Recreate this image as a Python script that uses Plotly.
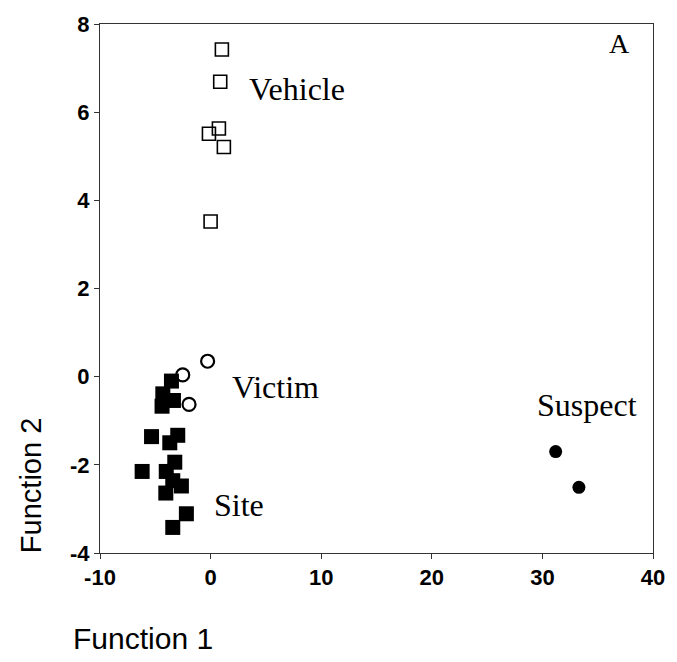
import plotly.graph_objects as go

# Data
vehicle_x = [1.02, 0.87, 0.75, -0.15, 1.20, 0.00]
vehicle_y = [7.42, 6.69, 5.63, 5.51, 5.21, 3.52]

victim_x = [-0.27, -2.52, -1.95]
victim_y = [0.35, 0.04, -0.63]

site_x = [-3.54, -4.32, -3.36, -4.39, -5.34, -2.97, -3.69, -3.24, -6.19, -4.01, -3.42, -2.64, -4.05, -2.19, -3.42]
site_y = [-0.10, -0.39, -0.54, -0.67, -1.36, -1.33, -1.50, -1.94, -2.15, -2.15, -2.36, -2.48, -2.64, -3.11, -3.42]

suspect_x = [31.2, 33.3]
suspect_y = [-1.70, -2.51]

group_labels = ["Vehicle", "Victim", "Site", "Suspect"]
label_x = [7.8, 5.9, 2.6, 34.0]
label_y = [6.53, -0.24, -2.92, -0.65]

x_ticks = [-10, 0, 10, 20, 30, 40]
x_tick_text = ["-10", "0", "10", "20", "30", "40"]
y_ticks = [-4, -2, 0, 2, 4, 6, 8]
y_tick_text = ["-4", "-2", "0", "2", "4", "6", "8"]

fig = go.Figure()
fig.add_trace(go.Scatter(x=vehicle_x, y=vehicle_y, mode="markers",
                         marker=dict(symbol="square-open", size=13, color="black",
                                     line=dict(width=1.6, color="black"))))
fig.add_trace(go.Scatter(x=victim_x, y=victim_y, mode="markers",
                         marker=dict(symbol="circle-open", size=13, color="black",
                                     line=dict(width=2.2, color="black"))))
fig.add_trace(go.Scatter(x=site_x, y=site_y, mode="markers",
                         marker=dict(symbol="square", size=15, color="black")))
fig.add_trace(go.Scatter(x=suspect_x, y=suspect_y, mode="markers",
                         marker=dict(symbol="circle", size=13, color="black")))

serif = "Liberation Serif, Times New Roman, serif"
for t, xx, yy in zip(group_labels, label_x, label_y):
    fig.add_annotation(x=xx, y=yy, text=t, showarrow=False,
                       font=dict(family=serif, size=32, color="black"))
fig.add_annotation(x=37.0, y=7.55, text="A", showarrow=False,
                   font=dict(family=serif, size=28, color="black"))

sans = "Liberation Sans, Arial, sans-serif"
fig.add_annotation(xref="paper", yref="paper", x=-0.126, y=0.127, text="Function 2",
                   textangle=-90, showarrow=False, xanchor="center", yanchor="middle",
                   font=dict(family=sans, size=29, color="black"))
fig.add_annotation(xref="paper", yref="paper", x=-0.052, y=-0.162, text="Function 1",
                   xanchor="left", yanchor="middle", showarrow=False,
                   font=dict(family=sans, size=30, color="black"))

axis_common = dict(showgrid=False, zeroline=False, showline=True, linecolor="#333",
                   linewidth=1, mirror=True, ticks="outside", ticklen=5,
                   tickcolor="#333",
                   tickfont=dict(family=sans, size=22, color="black", weight="bold"))

fig.update_layout(
    width=677, height=662,
    margin=dict(l=100, r=22, t=19, b=109),
    plot_bgcolor="white", paper_bgcolor="white",
    showlegend=False,
    xaxis=dict(range=[-10, 40], tickvals=x_ticks, ticktext=x_tick_text, **axis_common),
    yaxis=dict(range=[-4, 8], tickvals=y_ticks, ticktext=y_tick_text, **axis_common),
)
fig.write_html("out.html", config={"displayModeBar": False},
               post_script="document.body.style.margin='0';document.body.style.overflow='hidden';")
